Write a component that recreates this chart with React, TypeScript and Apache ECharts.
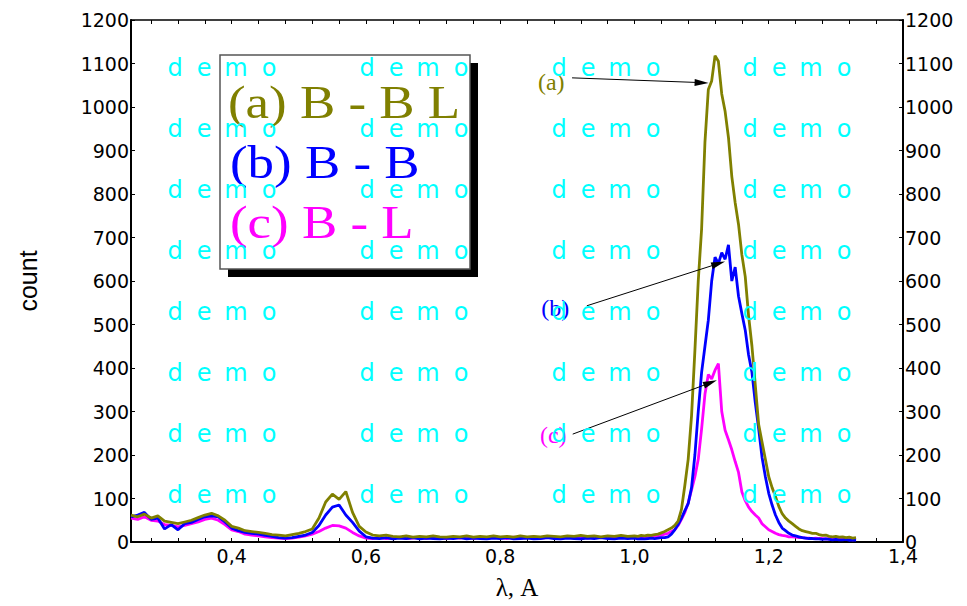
import React, { useEffect, useRef } from 'react';
import * as echarts from 'echarts';

// x positions: coarse 0.25..1.00 step 0.01, fine 1.005..1.33 step 0.005
const X: number[] = [];
for (let i = 0; i < 76; i++) X.push(+(0.25 + i * 0.01).toFixed(2));
for (let i = 1; i <= 66; i++) X.push(+(1 + i * 0.005).toFixed(3));

const OLIVE_COARSE = [
  62, 58, 64, 55, 60, 48, 45, 42, 46, 50,
  56, 62, 66, 60, 50, 36, 32, 26, 24, 22,
  20, 17, 16, 14, 17, 20, 24, 30, 55, 92,
  110, 98, 116, 68, 36, 23, 16, 14, 16, 13,
  12, 14, 11, 13, 12, 14, 12, 11, 13, 12,
  14, 11, 13, 12, 14, 12, 13, 11, 14, 12,
  13, 12, 14, 13, 12, 14, 13, 15, 13, 14,
  12, 14, 13, 15, 13, 14,
];
const OLIVE_FINE = [
  13, 15, 14, 16, 15, 17, 18, 21, 24, 28,
  32, 38, 48, 75, 130, 190, 290, 440, 600, 720,
  920, 1040, 1060, 1118, 1105, 1030, 990, 930, 840, 780,
  730, 660, 610, 520, 450, 360, 270, 230, 190, 150,
  125, 105, 82, 65, 55, 48, 42, 36, 30, 26,
  24, 22, 20, 20, 17, 15, 16, 13, 12, 13,
  11, 12, 10, 11, 9, 10,
];
const BLUE_COARSE = [
  58, 62, 68, 52, 55, 30, 40, 28, 42, 45,
  52, 58, 60, 58, 46, 32, 26, 22, 20, 18,
  15, 13, 10, 9, 10, 13, 16, 22, 38, 62,
  80, 85, 62, 45, 25, 12, 9, 8, 10, 7,
  9, 8, 10, 7, 9, 8, 7, 9, 8, 10,
  7, 9, 8, 7, 9, 8, 10, 7, 8, 9,
  7, 8, 10, 8, 7, 9, 8, 7, 9, 8,
  10, 8, 7, 9, 8, 9,
];
const BLUE_FINE = [
  7, 8, 7, 8, 9, 8, 9, 10, 10, 12,
  18, 28, 40, 55, 72, 88, 125, 200, 300, 390,
  450, 510, 600, 655, 640, 665, 650, 683, 600, 632,
  565, 525, 487, 430, 390, 320, 260, 195, 150, 112,
  85, 62, 45, 32, 26, 20, 16, 14, 12, 10,
  9, 8, 8, 7, 7, 6, 7, 6, 5, 6,
  5, 5, 6, 4, 5, 4,
];
const MAGENTA_COARSE = [
  55, 52, 58, 50, 48, 40, 38, 35, 38, 42,
  46, 52, 55, 50, 40, 28, 24, 18, 16, 14,
  12, 10, 9, 8, 9, 11, 14, 18, 24, 32,
  38, 37, 32, 22, 14, 9, 8, 10, 8, 9,
  11, 8, 9, 10, 8, 11, 9, 8, 10, 9,
  11, 8, 10, 9, 11, 10, 8, 11, 9, 10,
  12, 9, 10, 11, 9, 12, 10, 11, 9, 12,
  10, 11, 12, 10, 11, 12,
];
const MAGENTA_FINE = [
  10, 11, 10, 12, 11, 13, 14, 16, 18, 20,
  24, 28, 38, 52, 68, 90, 120, 150, 190, 260,
  340, 385, 375, 395, 410, 300, 257, 235, 212, 185,
  160, 115, 95, 80, 70, 62, 55, 42, 35, 28,
  24, 20, 17, 15, 14, 12, 12, 11, 10, 10,
  9, 9, 8, 9, 8, 8, 7, 8, 7, 7,
  6, 7, 6, 6, 5, 6,
];

const OLIVE = [...OLIVE_COARSE, ...OLIVE_FINE];
const BLUE = [...BLUE_COARSE, ...BLUE_FINE];
const MAGENTA = [...MAGENTA_COARSE, ...MAGENTA_FINE];

const X_LABELS = [0.4, 0.6, 0.8, 1.0, 1.2, 1.4];
const X_TICKS: number[] = [];
for (let i = 0; i < 29; i++) X_TICKS.push(+(0.28 + i * 0.04).toFixed(2));

const LEGEND_LINES = ['(a) B - B L', '(b) B - B', '(c) B - L'];
const COLORS = ['#808000', '#0000ff', '#ff00ff'];

// annotations in data coordinates: label, arrow start, arrow tip
const ANNOT = [
  { text: '(a)', label: [0.876, 1057], from: [0.907, 1067], to: [1.1, 1056] },
  { text: '(b)', label: [0.882, 538], from: [0.929, 543], to: [1.125, 640] },
  { text: '(c)', label: [0.879, 246], from: [0.908, 248], to: [1.113, 366] },
];

const DEMO_COLS = [165, 357, 549, 740];
const DEMO_LETTERS = ['d', 'e', 'm', 'o'];
const DEMO_OFFS = [10, 39, 71, 104];

export default function App() {
  const ref = useRef<HTMLDivElement>(null);
  useEffect(() => {
    if (!ref.current) return;
    const chart = echarts.init(ref.current, undefined, { renderer: 'svg' });
    const series = [
      { data: MAGENTA, color: COLORS[2], ann: ANNOT[2] },
      { data: BLUE, color: COLORS[1], ann: ANNOT[1] },
      { data: OLIVE, color: COLORS[0], ann: ANNOT[0] },
    ].map((s) => ({
      type: 'line',
      xAxisIndex: 0,
      yAxisIndex: 0,
      showSymbol: false,
      symbol: 'none',
      data: X.map((x, i) => [x, s.data[i]]),
      lineStyle: { color: s.color, width: 2.8 },
      itemStyle: { color: s.color },
      silent: true,
      markLine: {
        silent: true,
        symbol: ['none', 'triangle'],
        symbolSize: [7, 14],
        lineStyle: { color: '#000', width: 1, type: 'solid' },
        label: { show: false },
        data: [[{ coord: s.ann.from }, { coord: s.ann.to }]],
      },
      markPoint: {
        silent: true,
        symbol: 'circle',
        symbolSize: 1,
        itemStyle: { color: 'transparent' },
        label: {
          show: true,
          position: 'inside',
          formatter: s.ann.text,
          color: s.color,
          fontFamily: 'Liberation Serif',
          fontSize: 24,
        },
        data: [{ coord: s.ann.label }],
      },
    }));

    const graphic: any[] = [
      { type: 'rect', z: 50, shape: { x: 228, y: 63, width: 250, height: 214 }, style: { fill: '#000' } },
      { type: 'rect', z: 51, shape: { x: 220, y: 55, width: 250, height: 214 }, style: { fill: '#fff', stroke: '#555', lineWidth: 1.5 } },
    ];
    LEGEND_LINES.forEach((t, i) => {
      graphic.push({
        type: 'text',
        z: 52,
        x: i === 0 ? 228 : 230,
        y: 103 + i * 60,
        scaleX: 1.15,
        style: {
          text: t,
          fill: COLORS[i],
          fontFamily: 'Liberation Serif',
          fontSize: 46,
          align: 'left',
          verticalAlign: 'middle',
        },
      });
    });
    for (let r = 0; r < 8; r++) {
      DEMO_COLS.forEach((cx) => {
        DEMO_LETTERS.forEach((ch, k) => {
          graphic.push({
            type: 'text',
            z: 200,
            silent: true,
            x: cx + DEMO_OFFS[k],
            y: 68 + r * 61,
            style: {
              text: ch,
              fill: '#00ffff',
              fontFamily: 'DejaVu Sans',
              fontSize: 24,
              align: 'center',
              verticalAlign: 'middle',
            },
          });
        });
      });
    }

    const axisFont = { fontFamily: 'DejaVu Sans', fontSize: 19, color: '#000' };
    const yFmt = (v: number) => String(v);
    chart.setOption({
      animation: false,
      backgroundColor: '#fff',
      grid: { left: 131, right: 64, top: 20, bottom: 64, containLabel: false },
      xAxis: [
        {
          type: 'value',
          min: 0.25,
          max: 1.4,
          position: 'bottom',
          name: 'λ, A',
          nameLocation: 'middle',
          nameGap: 33,
          nameTextStyle: { fontFamily: 'Liberation Serif', fontSize: 25, color: '#000' },
          axisLine: { show: true, onZero: false, lineStyle: { color: '#000', width: 2 } },
          axisTick: { show: true, inside: true, length: 4, customValues: X_TICKS, lineStyle: { color: '#000' } },
          axisLabel: {
            show: true,
            margin: 4,
            customValues: X_LABELS,
            formatter: (v: number) => v.toFixed(1).replace('.', ','),
            ...axisFont,
          },
          splitLine: { show: false },
        },
        {
          type: 'value',
          min: 0.25,
          max: 1.4,
          position: 'top',
          axisLine: { show: true, onZero: false, lineStyle: { color: '#000', width: 1.5 } },
          axisTick: { show: true, inside: true, length: 4, customValues: X_TICKS, lineStyle: { color: '#000' } },
          axisLabel: { show: false },
          splitLine: { show: false },
        },
      ],
      yAxis: [
        {
          type: 'value',
          min: 0,
          max: 1200,
          interval: 100,
          position: 'left',
          name: 'count',
          nameLocation: 'middle',
          nameRotate: 90,
          nameGap: 91,
          nameTextStyle: { fontFamily: 'Liberation Sans', fontSize: 25, color: '#000' },
          axisLine: { show: true, onZero: false, lineStyle: { color: '#000', width: 2 } },
          axisTick: { show: true, inside: true, length: 4, lineStyle: { color: '#000' } },
          axisLabel: { show: true, margin: 2, formatter: yFmt, ...axisFont },
          splitLine: { show: false },
        },
        {
          type: 'value',
          min: 0,
          max: 1200,
          interval: 100,
          position: 'right',
          axisLine: { show: true, onZero: false, lineStyle: { color: '#000', width: 2 } },
          axisTick: { show: true, inside: true, length: 4, lineStyle: { color: '#000' } },
          axisLabel: { show: true, margin: 2, formatter: yFmt, ...axisFont },
          splitLine: { show: false },
        },
      ],
      series,
      graphic,
    });
    return () => chart.dispose();
  }, []);
  return (
    <div
      ref={ref}
      style={{ position: 'fixed', left: 0, top: 0, width: 967, height: 606, background: '#fff' }}
    />
  );
}
